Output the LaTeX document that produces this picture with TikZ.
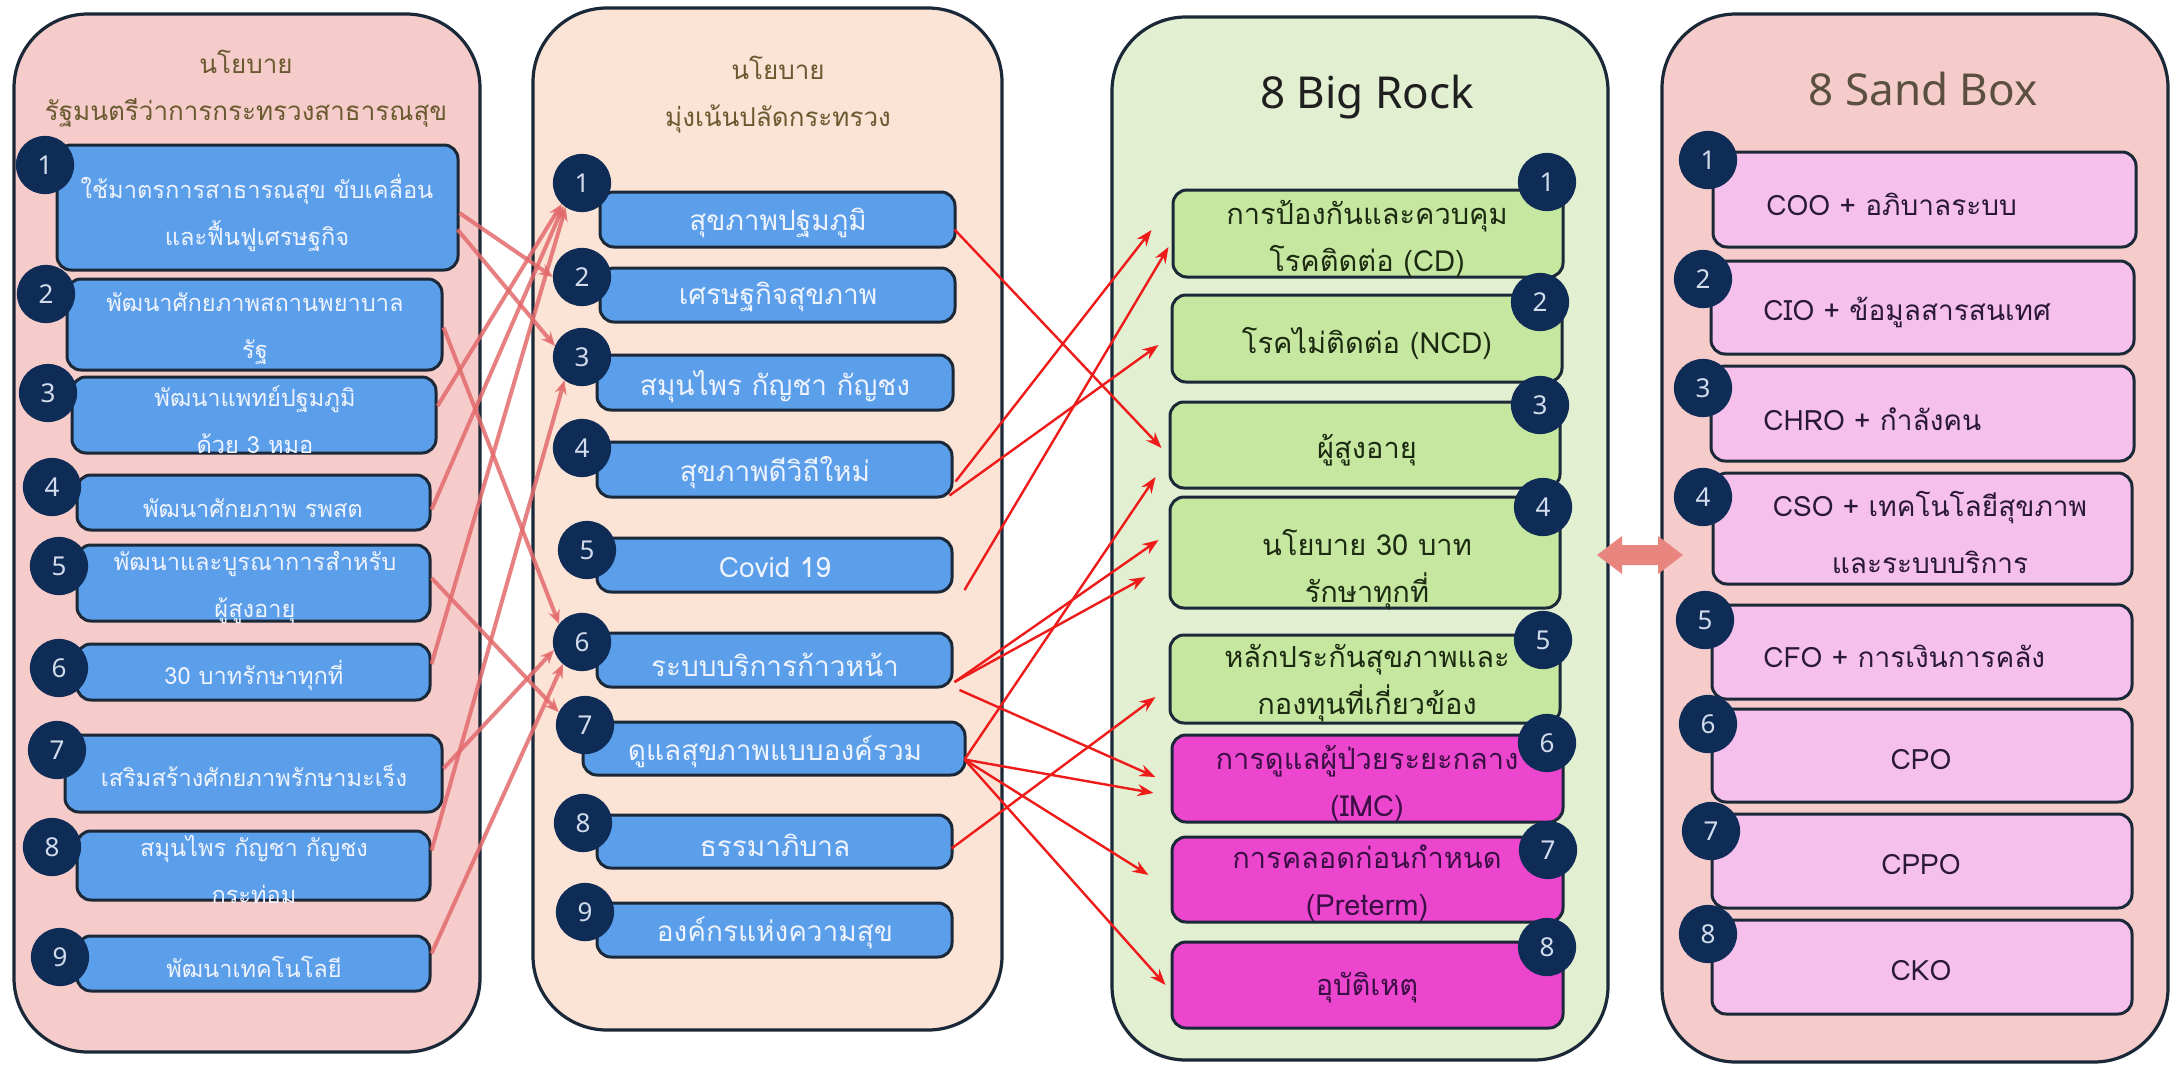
\documentclass[tikz,border=0pt]{standalone}
\usepackage{fontspec}
\setmainfont[Script=Thai]{Loma}
\newfontfamily\latinfont{Noto Sans}
\usetikzlibrary{calc,arrows.meta}
\definecolor{pnlpink}{HTML}{F6CCCA}
\definecolor{pnlpeach}{HTML}{FBE3D6}
\definecolor{pnlgreen}{HTML}{E2EFD1}
\definecolor{bluebox}{HTML}{5B9EEA}
\definecolor{greenbox}{HTML}{C6E79F}
\definecolor{magbox}{HTML}{EC46CF}
\definecolor{pinkbox}{HTML}{F6C0EC}
\definecolor{navy}{HTML}{0F2C57}
\definecolor{edgec}{HTML}{1A2838}
\definecolor{lred}{HTML}{E36A6C}
\definecolor{bred}{HTML}{EE1B1B}
\definecolor{titlebrown}{HTML}{6A5A30}
\definecolor{dblarrow}{HTML}{E8857F}
\definecolor{numtxt}{HTML}{D2DCEC}
\definecolor{bluetxt}{HTML}{EEF3FF}
\definecolor{greentxt}{HTML}{1C2A12}
\definecolor{magtxt}{HTML}{3B0F45}
\definecolor{pinktxt}{HTML}{2A1838}
\definecolor{sandtitle}{HTML}{5B5040}
\newcommand{\bx}[6]{\node[#6, minimum width={0.5pt*(#4-#2)}, minimum height={0.5pt*(#5-#3)}] (#1) at ({(#2+#4)/2},{(#3+#5)/2}) {};}
\newcommand{\tx}[5]{\node[#4] (#1) at (#2,#3) {#5};}
\newcommand{\nc}[4]{\node[numc] (#1) at (#2,#3) {#4};}
\begin{document}
\begin{tikzpicture}[x=0.5pt,y=-0.5pt,
  panel/.style={draw=edgec, line width=1.6pt, rounded corners=37pt},
  bbox/.style={draw=edgec, line width=1.5pt, rounded corners=7pt, fill=bluebox, inner sep=0pt},
  gbox/.style={bbox, fill=greenbox},
  mbox/.style={bbox, fill=magbox},
  pbox/.style={bbox, fill=pinkbox},
  numc/.style={circle, fill=navy, draw=navy, line width=0.6pt, minimum size=28.5pt, inner sep=0pt, text=numtxt, font=\latinfont\fontsize{13}{13}\selectfont},
  ltxt/.style={text=bluetxt, font=\fontsize{11.8}{23.5}\selectfont, align=center, inner sep=0pt},
  mtxt/.style={text=bluetxt, font=\fontsize{14}{23.5}\selectfont, align=center, inner sep=0pt},
  rtxt/.style={text=greentxt, font=\fontsize{14.5}{23.5}\selectfont, align=center, inner sep=0pt},
  rmtxt/.style={rtxt, text=magtxt},
  stxt/.style={text=pinktxt, font=\fontsize{14}{28.5}\selectfont, align=center, inner sep=0pt},
  ttl/.style={text=titlebrown, font=\fontsize{13}{23.5}\selectfont, align=center, inner sep=0pt},
  bigttl/.style={font=\latinfont\fontsize{22}{22}\selectfont, inner sep=0pt},
  conA/.style={draw=lred, line width=2pt, opacity=0.85, -{Stealth[length=7pt,width=6pt]}},
  conB/.style={draw=bred, line width=1.2pt, -{Stealth[length=8pt,width=6pt]}}
]
\useasboundingbox (0,0) rectangle (2174,1071);
\fill[white] (0,0) rectangle (2174,1071);
% panels
\draw[panel, fill=pnlpink] (14,14) rectangle (480,1052);
\draw[panel, fill=pnlpeach] (533,8) rectangle (1002,1030);
\draw[panel, fill=pnlgreen] (1112,17) rectangle (1608,1060);
\draw[panel, fill=pnlpink] (1662,14) rectangle (2168,1062);
% double arrow
\fill[dblarrow] (1597,555) -- (1622,536) -- (1622,545) -- (1658,545) -- (1658,536) -- (1683,555) -- (1658,574) -- (1658,565) -- (1622,565) -- (1622,574) -- cycle;
% column 1 boxes
\bx{L1}{57}{145}{458}{270}{bbox}
\bx{L2}{67}{279}{442}{370}{bbox}
\bx{L3}{72}{377}{436}{453}{bbox}
\bx{L4}{77}{475}{430}{530}{bbox}
\bx{L5}{77}{545}{430}{621}{bbox}
\bx{L6}{77}{644}{430}{700}{bbox}
\bx{L7}{65}{735}{442}{812}{bbox}
\bx{L8}{77}{831}{430}{900}{bbox}
\bx{L9}{77}{936}{430}{991}{bbox}
% column 2 boxes
\bx{M1}{600}{192}{955}{247}{bbox}
\bx{M2}{600}{268}{955}{322}{bbox}
\bx{M3}{597}{355}{953}{410}{bbox}
\bx{M4}{597}{442}{952}{497}{bbox}
\bx{M5}{597}{538}{952}{592}{bbox}
\bx{M6}{597}{633}{952}{687}{bbox}
\bx{M7}{583}{722}{965}{775}{bbox}
\bx{M8}{597}{815}{952}{868}{bbox}
\bx{M9}{597}{903}{952}{957}{bbox}
% column 3 boxes
\bx{R1}{1173}{190}{1563}{277}{gbox}
\bx{R2}{1172}{295}{1562}{382}{gbox}
\bx{R3}{1170}{402}{1560}{488}{gbox}
\bx{R4}{1170}{497}{1560}{608}{gbox}
\bx{R5}{1170}{635}{1560}{723}{gbox}
\bx{R6}{1172}{735}{1563}{822}{mbox}
\bx{R7}{1172}{837}{1563}{922}{mbox}
\bx{R8}{1172}{942}{1563}{1028}{mbox}
% column 4 boxes
\bx{S1}{1713}{152}{2136}{247}{pbox}
\bx{S2}{1711}{261}{2134}{354}{pbox}
\bx{S3}{1711}{366}{2134}{461}{pbox}
\bx{S4}{1713}{473}{2132}{584}{pbox}
\bx{S5}{1712}{605}{2132}{699}{pbox}
\bx{S6}{1712}{709}{2132}{802}{pbox}
\bx{S7}{1712}{814}{2132}{908}{pbox}
\bx{S8}{1712}{920}{2132}{1014}{pbox}
% circles
\nc{Ln1}{45}{165}{1}
\nc{Ln2}{46}{294}{2}
\nc{Ln3}{48}{393}{3}
\nc{Ln4}{52}{487}{4}
\nc{Ln5}{59}{566}{5}
\nc{Ln6}{59}{668}{6}
\nc{Ln7}{57}{750}{7}
\nc{Ln8}{52}{847}{8}
\nc{Ln9}{60}{957}{9}
\nc{Mn1}{582}{183}{1}
\nc{Mn2}{582}{277}{2}
\nc{Mn3}{582}{357}{3}
\nc{Mn4}{582}{448}{4}
\nc{Mn5}{587}{550}{5}
\nc{Mn6}{582}{642}{6}
\nc{Mn7}{585}{725}{7}
\nc{Mn8}{583}{823}{8}
\nc{Mn9}{585}{912}{9}
\nc{Rn1}{1547}{182}{1}
\nc{Rn2}{1540}{302}{2}
\nc{Rn3}{1540}{405}{3}
\nc{Rn4}{1543}{507}{4}
\nc{Rn5}{1543}{640}{5}
\nc{Rn6}{1547}{743}{6}
\nc{Rn7}{1548}{850}{7}
\nc{Rn8}{1547}{947}{8}
\nc{Sn1}{1708}{160}{1}
\nc{Sn2}{1703}{279}{2}
\nc{Sn3}{1703}{388}{3}
\nc{Sn4}{1703}{497}{4}
\nc{Sn5}{1705}{620}{5}
\nc{Sn6}{1708}{724}{6}
\nc{Sn7}{1711}{831}{7}
\nc{Sn8}{1708}{934}{8}
% titles
\tx{P1T}{246}{88.5}{ttl}{นโยบาย\\รัฐมนตรีว่าการกระทรวงสาธารณสุข}
\tx{P2T}{778}{95}{ttl}{นโยบาย\\มุ่งเน้นปลัดกระทรวง}
\tx{P3T}{1367}{97}{bigttl, text=black!88}{8 Big Rock}
\tx{P4T}{1923}{89}{bigttl, text=sandtitle}{8 Sand Box}
% column 1 texts
\tx{L1T}{257}{212.5}{ltxt}{ใช้มาตรการสาธารณสุข ขับเคลื่อน\\และฟื้นฟูเศรษฐกิจ}
\tx{L2T}{255}{328.5}{ltxt}{พัฒนาศักยภาพสถานพยาบาล\\รัฐ}
\tx{L3T}{255}{420}{ltxt}{พัฒนาแพทย์ปฐมภูมิ\\ด้วย 3 หมอ}
\tx{L4T}{253}{508}{ltxt}{พัฒนาศักยภาพ รพสต}
\tx{L5T}{255}{587.5}{ltxt}{พัฒนาและบูรณาการสำหรับ\\ผู้สูงอายุ}
\tx{L6T}{254}{675}{ltxt}{30 บาทรักษาทุกที่}
\tx{L7T}{254}{776}{ltxt}{เสริมสร้างศักยภาพรักษามะเร็ง}
\tx{L8T}{254}{869.5}{ltxt}{สมุนไพร กัญชา กัญชง\\กระท่อม}
\tx{L9T}{254}{967}{ltxt}{พัฒนาเทคโนโลยี}
% column 2 texts
\tx{M1T}{778}{223}{mtxt}{สุขภาพปฐมภูมิ}
\tx{M2T}{778}{297}{mtxt}{เศรษฐกิจสุขภาพ}
\tx{M3T}{775}{387}{mtxt}{สมุนไพร กัญชา กัญชง}
\tx{M4T}{775}{473}{mtxt}{สุขภาพดีวิถีใหม่}
\tx{M5T}{775}{568}{mtxt}{Covid 19}
\tx{M6T}{775}{665}{mtxt}{ระบบบริการก้าวหน้า}
\tx{M7T}{775}{752}{mtxt}{ดูแลสุขภาพแบบองค์รวม}
\tx{M8T}{775}{845}{mtxt}{ธรรมาภิบาล}
\tx{M9T}{775}{933}{mtxt}{องค์กรแห่งความสุข}
% column 3 texts
\tx{R1T}{1367}{238.5}{rtxt}{การป้องกันและควบคุม\\โรคติดต่อ (CD)}
\tx{R2T}{1367}{343}{rtxt}{โรคไม่ติดต่อ (NCD)}
\tx{R3T}{1367}{450}{rtxt}{ผู้สูงอายุ}
\tx{R4T}{1367}{569.5}{rtxt}{นโยบาย 30 บาท\\รักษาทุกที่}
\tx{R5T}{1367}{683.5}{rtxt}{หลักประกันสุขภาพและ\\กองทุนที่เกี่ยวข้อง}
\tx{R6T}{1367}{783.5}{rmtxt}{การดูแลผู้ป่วยระยะกลาง\\(IMC)}
\tx{R7T}{1367}{883.5}{rmtxt}{การคลอดก่อนกำหนด\\(Preterm)}
\tx{R8T}{1367}{988}{rmtxt}{อุบัติเหตุ}
% column 4 texts
\tx{S1T}{1766}{204}{stxt, anchor=west}{COO + อภิบาลระบบ}
\tx{S2T}{1763}{312}{stxt, anchor=west}{CIO + ข้อมูลสารสนเทศ}
\tx{S3T}{1763}{419}{stxt, anchor=west}{CHRO + กำลังคน}
\tx{S4T}{1930}{532.5}{stxt}{CSO + เทคโนโลยีสุขภาพ\\และระบบบริการ}
\tx{S5T}{1763}{656}{stxt, anchor=west}{CFO + การเงินการคลัง}
\tx{S6T}{1921}{760}{stxt}{CPO}
\tx{S7T}{1921}{865}{stxt}{CPPO}
\tx{S8T}{1921}{971}{stxt}{CKO}
% connectors column 1 -> column 2
\draw[conA] ($(L1.east)+(0,5.5)$) -- (Mn2.180);
\draw[conA] ($(L1.east)+(-2,22)$) -- (Mn3.158);
\draw[conA] ($(L2.east)+(0,3)$) -- (Mn6.142);
\draw[conA] ($(L3.east)+(0,-9)$) -- (Mn1.226);
\draw[conA] ($(L4.east)+(0,7)$) -- (Mn1.231);
\draw[conA] ($(L5.east)+(0,-5)$) -- (Mn7.154);
\draw[conA] ($(L6.east)+(0,-8)$) -- (Mn1.236);
\draw[conA] ($(L7.east)+(0,-5)$) -- (Mn6.196);
\draw[conA] ($(L8.east)+(0,-15)$) -- (Mn3.233);
\draw[conA] ($(L9.east)+(0,-10)$) -- (Mn6.229);
% connectors column 2 -> column 3
\draw[conB] ($(M1.east)+(-2,10)$) -- ($(R3.west)+(-7,3)$);
\draw[conB] ($(M4.east)+(2,12)$) -- ($(R1.west)+(-20,-3.5)$);
\draw[conB] ($(M4.east)+(-4,26)$) -- ($(R2.west)+(-12,6.5)$);
\draw[conB] ($(M5.east)+(11,25)$) -- ($(R1.west)+(-3,13.5)$);
\draw[conB] ($(M6.east)+(1,22)$) -- ($(R4.west)+(-10,-12.5)$);
\draw[conB] ($(M6.east)+(1,22)$) -- ($(R4.west)+(-23,24.5)$);
\draw[conB] ($(M6.east)+(6,30)$) -- ($(R6.west)+(-15,-1.5)$);
\draw[conB] ($(M7.east)+(-2,11)$) -- ($(R3.west)+(-13,32)$);
\draw[conB] ($(M7.east)+(-2,11)$) -- ($(R6.west)+(-17,14.5)$);
\draw[conB] ($(M7.east)+(-2,11)$) -- ($(R7.west)+(-22,-4.5)$);
\draw[conB] ($(M7.east)+(-2,11)$) -- ($(R8.west)+(-5,0)$);
\draw[conB] ($(M8.east)+(-2,7)$) -- ($(R5.west)+(-13,18)$);
\end{tikzpicture}
\end{document}
